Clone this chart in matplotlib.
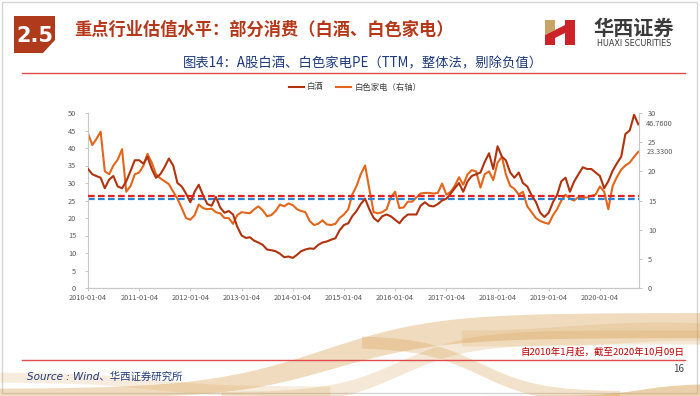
import numpy as np
import pandas as pd
import matplotlib
matplotlib.use('Agg')
import matplotlib.pyplot as plt
import matplotlib.dates as mdates
import matplotlib.transforms as mtransforms
from matplotlib.patches import Polygon, Rectangle

plt.rcParams['font.family'] = ['Noto Sans CJK SC', 'DejaVu Sans']

# monthly readings, 2010-01 .. 2020-10
months = pd.date_range('2010-01-01', periods=130, freq='MS') + pd.Timedelta(days=3)

baijiu = [34.0, 32.5, 32.0, 31.5, 28.5, 31.0, 32.0, 29.0, 28.5, 30.5, 33.5, 36.5,
          36.5, 35.5, 37.5, 34.0, 31.5, 32.5, 34.5, 37.0, 35.0, 30.0, 29.0, 27.0,
          24.5, 27.5, 29.5, 26.5, 24.0, 23.5, 26.0, 23.0, 21.5, 22.0, 21.0, 17.5,
          15.0, 14.3, 14.5, 13.5, 13.0, 12.3, 11.0, 10.8, 10.5, 9.8, 8.8, 9.0,
          8.6, 9.5, 10.5, 11.0, 11.3, 11.2, 12.3, 13.0, 13.3, 13.8, 14.2, 16.5,
          18.0, 18.5, 20.5, 22.0, 24.0, 25.5, 22.5, 20.0, 19.0, 20.5, 21.0, 20.5,
          19.5, 18.5, 20.0, 21.0, 21.0, 21.0, 23.5, 24.5, 23.5, 23.3, 24.0, 25.0,
          25.5, 27.0, 28.5, 30.0, 27.5, 30.5, 32.0, 32.5, 33.0, 36.0, 38.5, 34.0,
          40.5, 37.5, 36.5, 33.0, 31.5, 33.0, 30.0, 29.0, 26.5, 24.6, 21.5, 20.3,
          21.5, 24.6, 26.5, 30.5, 31.5, 27.5, 30.4, 32.5, 34.5, 34.0, 34.0, 33.0,
          32.0, 28.5, 30.5, 33.5, 35.6, 37.5, 44.0, 45.0, 49.5, 46.76]

jiadian = [26.5, 24.5, 25.5, 26.8, 20.0, 19.5, 21.0, 22.0, 23.8, 16.5, 17.5, 19.5,
           19.8, 21.0, 23.0, 21.5, 19.5, 18.8, 18.3, 17.8, 16.5, 15.3, 13.7, 12.0,
           11.7, 12.5, 14.3, 13.7, 13.5, 13.6, 13.0, 12.8, 12.0, 12.0, 11.0, 12.5,
           13.0, 12.9, 12.8, 13.5, 14.0, 13.3, 12.3, 12.5, 13.2, 14.3, 14.0, 14.5,
           14.2, 13.5, 13.2, 13.0, 11.5, 10.8, 11.0, 11.6, 10.9, 10.8, 11.0, 12.0,
           12.6, 13.5, 16.0, 17.5, 19.5, 21.0, 17.0, 13.0, 12.8, 13.0, 13.5, 15.5,
           16.5, 13.7, 13.8, 14.8, 14.8, 15.5, 16.2, 16.3, 16.3, 16.2, 16.3, 17.9,
           16.0, 16.5, 17.5, 19.0, 17.7, 19.5, 20.2, 20.0, 17.2, 19.5, 20.0, 18.5,
           21.5, 22.5, 19.5, 17.5, 17.0, 16.0, 16.5, 14.0, 13.0, 12.0, 11.5, 11.2,
           11.0, 12.5, 13.5, 15.0, 16.0, 15.3, 15.0, 15.6, 15.5, 15.5, 15.8, 16.0,
           17.4, 16.5, 13.5, 17.5, 19.0, 20.3, 21.0, 21.5, 22.5, 23.33]

baijiu_avg = 26.3
jiadian_avg = 15.3
xtick_dates = [pd.Timestamp(f'{y}-01-04') for y in range(2010, 2021)]
left_ticks = [0, 5, 10, 15, 20, 25, 30, 35, 40, 45, 50]
right_ticks = [0, 5, 10, 15, 20, 25, 30]

W, H = 700, 396
fig = plt.figure(figsize=(7, 3.96), dpi=100)
fig.patch.set_facecolor('white')

# background layer for slide decoration (pixel coords)
bg = fig.add_axes([0, 0, 1, 1], zorder=-5)
bg.set_xlim(0, W)
bg.set_ylim(H, 0)
bg.axis('off')
bg.add_patch(Rectangle((2, 2), W - 5, H - 5, fill=False, ec='#d6d6d6', lw=1))


def sig(x, x0, w):
    return 0.5 * (1 + np.tanh((x - x0) / w))


# gold waves at bottom
xs = np.linspace(0, W, 400)
gold = '#d49a45'
# rising band, lower left -> top middle
mid = 393 - 66 * sig(xs, 330, 110)
bg.fill_between(xs, mid - 4 - 10 * sig(xs, 250, 120), mid + 5 + 6 * sig(xs, 250, 120),
                color=gold, alpha=0.35, lw=0)
# wide light band on the right
bg.fill_between(xs, 326 + 4 * np.sin(xs / 60), 346 - 6 * sig(xs, 620, 40),
                where=xs > 460, color=gold, alpha=0.18, lw=0)
# second rising band
mid2 = 398 - 62 * sig(xs, 400, 70)
bg.fill_between(xs, mid2 - 6, mid2 + 8, where=xs > 220, color=gold, alpha=0.22, lw=0)
# falling band through the middle
mid3 = 340 + 56 * sig(xs, 480, 60)
bg.fill_between(xs, mid3 - 5, mid3 + 7, where=(xs > 360) & (xs < 620), color=gold, alpha=0.28, lw=0)
# lower left light wave
bg.fill_between(xs, 372 + 14 * sig(xs, 150, 70), 382 + 14 * sig(xs, 150, 70),
                where=xs < 330, color=gold, alpha=0.18, lw=0)
# bottom right swell
bg.fill_between(xs, 396 - 12 * sig(xs, 640, 40), 396, color=gold, alpha=0.45, lw=0)

# section box "2.5"
bg.add_patch(Polygon([(14, 16), (55, 16), (55, 40), (43, 53), (14, 53)], closed=True,
                     fc='#b03a1c', ec='none'))
bg.text(35, 36, '2.5', color='white', fontsize=15, fontweight='bold', ha='center', va='center',
        family='DejaVu Sans')
bg.text(74, 30, '重点行业估值水平：部分消费（白酒、白色家电）', color='#b5381a', fontsize=12.4,
        fontweight='bold', ha='left', va='center')

# logo
bg.add_patch(Polygon([(545, 20), (555, 20), (555, 30), (545, 35)], fc='#c9a565', ec='none'))
bg.add_patch(Polygon([(545, 35), (555, 30), (555, 45), (545, 45)], fc='#cc2229', ec='none'))
bg.add_patch(Polygon([(555, 30), (565, 25), (565, 33), (555, 38)], fc='#cc2229', ec='none'))
bg.add_patch(Polygon([(565, 20), (575, 20), (575, 45), (565, 45)], fc='#cc2229', ec='none'))
bg.text(634, 28, '华西证券', color='#3a3a3a', fontsize=14.5, fontweight='bold', ha='center', va='center')
bg.text(634, 43, 'HUAXI SECURITIES', color='#3a3a3a', fontsize=5.8, ha='center', va='center',
        family='DejaVu Sans')

# chart title + red rule
bg.text(363, 63, '图表14：A股白酒、白色家电PE（TTM，整体法，剔除负值）', color='#1f3a7a',
        fontsize=9.6, ha='center', va='center')
bg.plot([22, 685], [72.5, 72.5], color='#e04a4a', lw=1)

# footer
bg.plot([22, 685], [360, 360], color='#e04a4a', lw=1)
bg.text(684, 352, '自2010年1月起，截至2020年10月09日', color='#c00000', fontsize=6.8,
        ha='right', va='center')
bg.text(27, 377, 'Source : Wind、华西证券研究所', color='#1f3a7a', fontsize=7.5,
        style='italic', ha='left', va='center', family=['DejaVu Sans', 'Noto Sans CJK SC'])
bg.text(684, 369, '16', color='#404040', fontsize=7, ha='right', va='center')

# main chart
ax = fig.add_axes([88 / W, 1 - 288 / H, (639 - 88) / W, 175 / H])
ax.set_facecolor('none')
ax2 = ax.twinx()

c_bj = '#b0330f'
c_jd = '#e2661c'
l1, = ax.plot(months, baijiu, color=c_bj, lw=1.5, label='白酒', zorder=3)
l2, = ax2.plot(months, jiadian, color=c_jd, lw=1.5, label='白色家电（右轴）', zorder=2)
ax.axhline(baijiu_avg, color='#e02424', lw=1.6, ls=(0, (3, 1.5)), zorder=5)
ax2.axhline(jiadian_avg, color='#2b84d2', lw=1.6, ls=(0, (3, 1.5)), zorder=5)
ax.set_zorder(ax2.get_zorder() + 1)

ax.set_xlim(pd.Timestamp('2010-01-04'), pd.Timestamp('2020-10-09'))
ax.set_ylim(0, 50)
ax2.set_ylim(0, 30)
ax.set_yticks(left_ticks)
ax2.set_yticks(right_ticks)
ax.set_xticks(xtick_dates)
ax.xaxis.set_major_formatter(mdates.DateFormatter('%Y-%m-%d'))

for a in (ax, ax2):
    for s in a.spines.values():
        s.set_color('#c8c8c8')
        s.set_linewidth(0.8)
    a.spines['top'].set_visible(False)
    a.tick_params(axis='both', colors='#c8c8c8', labelcolor='#595959', labelsize=5.3,
                  length=2.5, width=0.7, pad=2)
ax.spines['right'].set_visible(False)
ax2.spines['left'].set_visible(False)
ax.tick_params(axis='y', pad=6)
ax2.tick_params(axis='y', pad=4)

# latest-value labels on the right side
trans = mtransforms.blended_transform_factory(ax.transAxes, ax.transData)
ax.text(1.013, baijiu[-1], '46.7600', transform=trans, fontsize=5.3, color='#595959',
        ha='left', va='center')
trans2 = mtransforms.blended_transform_factory(ax2.transAxes, ax2.transData)
ax2.text(1.013, jiadian[-1], '23.3300', transform=trans2, fontsize=5.3, color='#595959',
         ha='left', va='center')

fig.legend([l1, l2], ['白酒', '白色家电（右轴）'], loc='center', bbox_to_anchor=(355 / W, 1 - 87 / H),
           ncol=2, frameon=False, fontsize=6, handlelength=1.8, columnspacing=1.5,
           handletextpad=0.4, labelcolor='#404040')

fig.savefig('out.png', dpi=100)
